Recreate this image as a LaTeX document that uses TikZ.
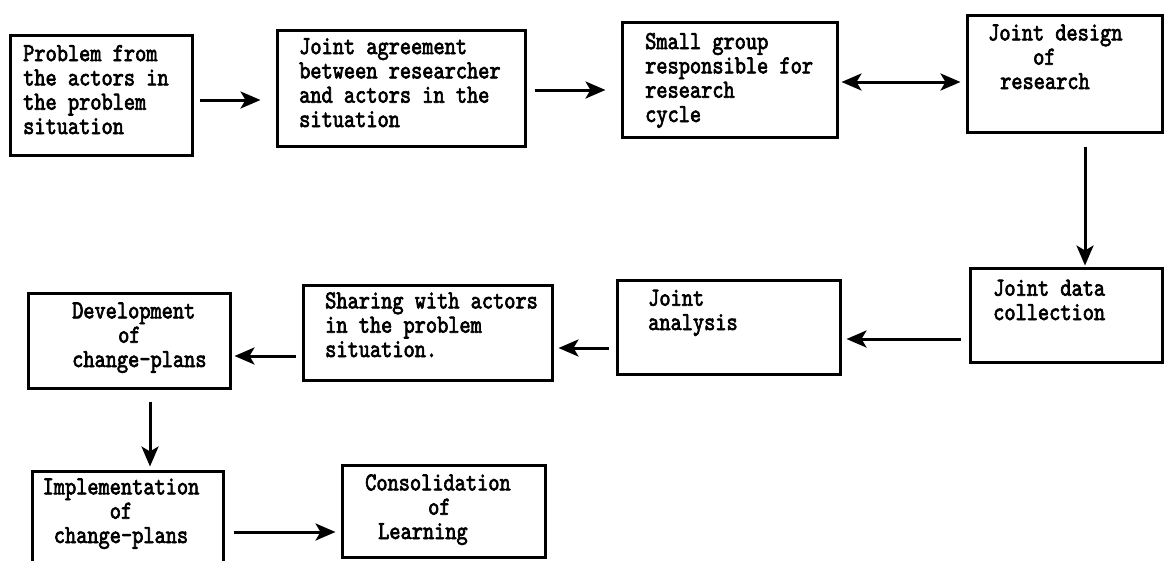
\documentclass[tikz,border=0pt]{standalone}
\usepackage{fontspec}
\usetikzlibrary{arrows.meta,fit}
\newfontfamily\tw{lmmono10-regular.otf}[FakeStretch=0.82,FakeBold=2.5]
\begin{document}
\begin{tikzpicture}[x=1pt,y=-1pt,
  >={Stealth[length=20pt,width=17pt,inset=5pt]},
  box/.style={draw, line width=3pt, inner sep=0pt},
  txt/.style={anchor=base west, inner sep=0pt, align=left,
    font=\tw\fontsize{26}{24.3}\selectfont},
  ctxt/.style={txt, anchor=base, align=center},
  arr/.style={->, line width=3pt},
  darr/.style={<->, line width=3pt},
]
\clip (0,0) rectangle (1165,560);
\fill[white] (0,0) rectangle (1165,560);

% boxes
\node[box, fit={(10,35) (192,155)}] (b1) {};
\node[box, fit={(277,30) (525,146)}] (b2) {};
\node[box, fit={(622,22) (837,137)}] (b3) {};
\node[box, fit={(967,15) (1162,132)}] (b4) {};
\node[box, fit={(970,268) (1162,362)}] (b5) {};
\node[box, fit={(617,280) (840,374)}] (b6) {};
\node[box, fit={(303,285) (552,380)}] (b7) {};
\node[box, fit={(28,293) (230,388)}] (b8) {};
\node[box, fit={(32,471) (223,575)}] (b9) {};
\node[box, fit={(342,465) (545,557)}] (b10) {};

% texts (anchor = baseline of last line)
\node[txt] (t1) at (23,134) {Problem from\\the actors in\\the problem\\situation};
\node[txt] (t2) at (299,127) {Joint agreement\\between researcher\\and actors in the\\situation};
\node[txt] (t3) at (645,122) {Small group\\responsible for\\research\\cycle};
\node[txt] (t4) at (988,89) {Joint design\\\hspace*{45pt}of\\\hspace*{12pt}research};
\node[txt] (t5) at (993,320) {Joint data\\collection};
\node[txt] (t6) at (648,330) {Joint\\analysis};
\node[txt] (t7) at (325,357) {Sharing with actors\\in the problem\\situation.};
\node[txt] (t8) at (72,367) {Development\\\hspace*{46pt}of\\change-plans};
\node[ctxt] (t9) at (121,543) {Implementation\\of\\change-plans};
\node[txt] (t10) at (365,539) {Consolidation\\\hspace*{63pt}of\\\hspace*{13pt}Learning};

% connectors
\draw[arr, shorten <=6pt, shorten >=15pt] (b1.east |- 0,100) -- (b2.west |- 0,100);
\draw[arr, shorten <=8pt, shorten >=15pt] (b2.east |- 0,90) -- (b3.west |- 0,90);
\draw[darr, shorten <=3pt, shorten >=5pt] (b3.east |- 0,82) -- (b4.west |- 0,82);
\draw[arr, shorten <=13pt, shorten >=1pt] (b4.south -| 1085,0) -- (b5.north -| 1085,0);
\draw[arr, shorten <=8pt, shorten >=5pt] (b5.west |- 0,339) -- (b6.east |- 0,339);
\draw[arr, shorten <=7pt, shorten >=5pt] (b6.west |- 0,348) -- (b7.east |- 0,348);
\draw[arr, shorten <=6pt, shorten >=3pt] (b7.west |- 0,356) -- (b8.east |- 0,356);
\draw[arr, shorten <=12pt, shorten >=3pt] (b8.south -| 150,0) -- (b9.north -| 150,0);
\draw[arr, shorten <=9pt, shorten >=5pt] (b9.east |- 0,532) -- (b10.west |- 0,532);
\end{tikzpicture}
\end{document}
